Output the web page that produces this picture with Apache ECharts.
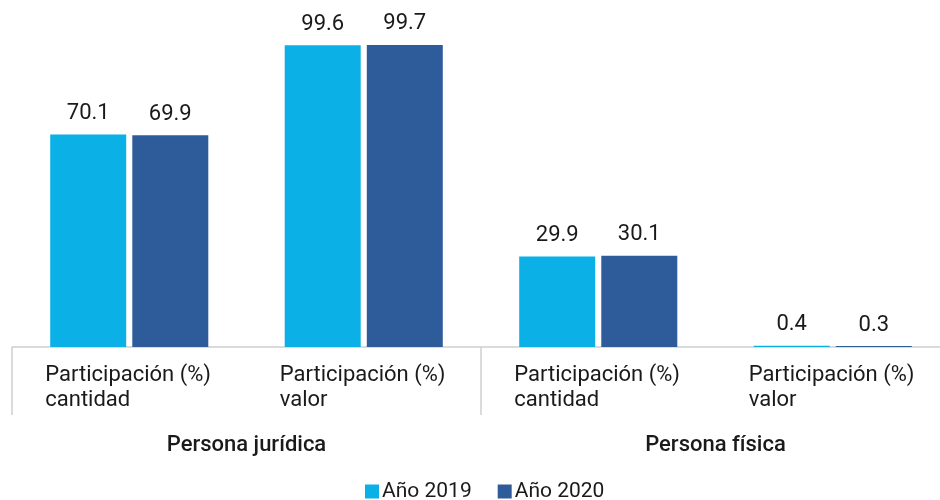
<!DOCTYPE html>
<html><head><meta charset="utf-8">
<script src="https://cdn.jsdelivr.net/npm/echarts@6/dist/echarts.min.js"></script>
<style>html,body{margin:0;padding:0;background:#fff}#c{width:940px;height:500px}</style>
</head><body><div id="c"></div>
<script>
const categories = ['Participación (%)\ncantidad','Participación (%)\nvalor','Participación (%)\ncantidad','Participación (%)\nvalor'];
const groups = ['Persona jurídica','Persona física'];
const seriesNames = ['Año 2019','Año 2020'];
const values2019 = [70.1, 99.6, 29.9, 0.4];
const values2020 = [69.9, 99.7, 30.1, 0.3];

const chart = echarts.init(document.getElementById('c'), null, {renderer:'canvas'});
const font = 'Roboto';
const txt = '#1a1a1a';
const lineColor = '#cfcfcf';
const lbl = {show:true, position:'top', distance:10, color:txt, fontSize:22, fontFamily:font, formatter:p=>p.value.toFixed(1)};
chart.setOption({
  animation:false,
  textStyle:{fontFamily:font},
  grid:{left:12, width:938, top:44, height:303, outerBoundsMode:'none', containLabel:false},
  legend:{top:481, left:365, itemWidth:14, itemHeight:14, itemGap:26, icon:'rect', padding:0,
    textStyle:{fontSize:21, color:txt, fontFamily:font, padding:[0,0,0,-2]}, data:seriesNames},
  xAxis:[{
    type:'category', data:categories,
    axisLine:{show:true, lineStyle:{color:lineColor, width:1.5}},
    axisTick:{show:false},
    axisLabel:{interval:0, hideOverlap:false, margin:16, fontSize:22, color:txt, fontFamily:font, lineHeight:25,
      formatter:v=>v.split('\n').map(s=>'{l|'+s+'}').join('\n'),
      rich:{l:{width:168, align:'left', fontSize:22, fontFamily:font, color:txt, lineHeight:25}}}
  },{
    type:'category', data:groups, position:'bottom',
    axisLine:{show:false},
    axisTick:{show:true, length:68, lineStyle:{color:lineColor, width:1.5}},
    axisLabel:{interval:0, margin:87, fontSize:22, fontWeight:500, color:txt, fontFamily:font}
  }],
  yAxis:{type:'value', min:0, max:100, show:false, splitLine:{show:false}},
  series:[
    {name:seriesNames[0], type:'bar', data:values2019, barWidth:76, barGap:'8%', itemStyle:{color:'#0bb0e6'}, label:lbl},
    {name:seriesNames[1], type:'bar', data:values2020, barWidth:76, itemStyle:{color:'#2e5c9a'}, label:lbl}
  ]
});
</script></body></html>
